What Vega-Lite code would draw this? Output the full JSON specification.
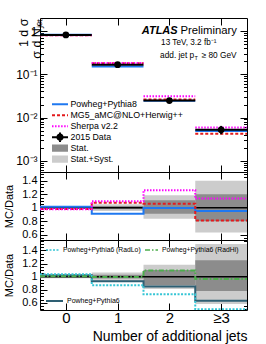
{
  "$schema": "https://vega.github.io/schema/vega-lite/v6.json",
  "padding": {"left": 3, "top": 17, "right": 2, "bottom": 0},
  "spacing": 0,
  "bounds": "flush",
  "config": {
    "font": "Liberation Sans",
    "view": {"stroke": "black", "strokeWidth": 1},
    "axis": {"domain": false, "grid": false, "tickColor": "black", "tickWidth": 1, "labelColor": "black", "titleColor": "black", "titleFontWeight": "normal", "labelFont": "Liberation Sans", "titleFont": "Liberation Sans", "labelOverlap": false},
    "legend": {"padding": 0, "labelColor": "black", "labelFont": "Liberation Sans", "labelLimit": 400}
  },
  "datasets": {
    "xs": [
      {"sample": "Powheg+Pythia8", "bin": 0, "lo": -0.5, "hi": 0.5, "xs": 0.822},
      {"sample": "Powheg+Pythia8", "bin": 1, "lo": 0.5, "hi": 1.5, "xs": 0.152},
      {"sample": "Powheg+Pythia8", "bin": 2, "lo": 1.5, "hi": 2.5, "xs": 0.0245},
      {"sample": "Powheg+Pythia8", "bin": 3, "lo": 2.5, "hi": 3.5, "xs": 0.0049},
      {"sample": "MG5_aMC@NLO+Herwig++", "bin": 0, "lo": -0.5, "hi": 0.5, "xs": 0.795},
      {"sample": "MG5_aMC@NLO+Herwig++", "bin": 1, "lo": 0.5, "hi": 1.5, "xs": 0.18},
      {"sample": "MG5_aMC@NLO+Herwig++", "bin": 2, "lo": 1.5, "hi": 2.5, "xs": 0.0261},
      {"sample": "MG5_aMC@NLO+Herwig++", "bin": 3, "lo": 2.5, "hi": 3.5, "xs": 0.0042},
      {"sample": "Sherpa v2.2", "bin": 0, "lo": -0.5, "hi": 0.5, "xs": 0.795},
      {"sample": "Sherpa v2.2", "bin": 1, "lo": 0.5, "hi": 1.5, "xs": 0.183},
      {"sample": "Sherpa v2.2", "bin": 2, "lo": 1.5, "hi": 2.5, "xs": 0.031},
      {"sample": "Sherpa v2.2", "bin": 3, "lo": 2.5, "hi": 3.5, "xs": 0.0059}
    ],
    "data": [
      {"bin": 0, "lo": -0.5, "hi": 0.5, "xs": 0.81, "down": 0.8, "up": 0.82},
      {"bin": 1, "lo": 0.5, "hi": 1.5, "xs": 0.167, "down": 0.162, "up": 0.172},
      {"bin": 2, "lo": 1.5, "hi": 2.5, "xs": 0.0246, "down": 0.0228, "up": 0.0265},
      {"bin": 3, "lo": 2.5, "hi": 3.5, "xs": 0.0052, "down": 0.0041, "up": 0.0064}
    ],
    "ratio": [
      {"panel": 1, "sample": "Powheg+Pythia8", "bin": 0, "lo": -0.5, "hi": 0.5, "r": 1.015},
      {"panel": 1, "sample": "Powheg+Pythia8", "bin": 1, "lo": 0.5, "hi": 1.5, "r": 0.91},
      {"panel": 1, "sample": "Powheg+Pythia8", "bin": 2, "lo": 1.5, "hi": 2.5, "r": 0.995},
      {"panel": 1, "sample": "Powheg+Pythia8", "bin": 3, "lo": 2.5, "hi": 3.5, "r": 0.95},
      {"panel": 1, "sample": "MG5_aMC@NLO+Herwig++", "bin": 0, "lo": -0.5, "hi": 0.5, "r": 0.982},
      {"panel": 1, "sample": "MG5_aMC@NLO+Herwig++", "bin": 1, "lo": 0.5, "hi": 1.5, "r": 1.075},
      {"panel": 1, "sample": "MG5_aMC@NLO+Herwig++", "bin": 2, "lo": 1.5, "hi": 2.5, "r": 1.06},
      {"panel": 1, "sample": "MG5_aMC@NLO+Herwig++", "bin": 3, "lo": 2.5, "hi": 3.5, "r": 0.81},
      {"panel": 1, "sample": "Sherpa v2.2", "bin": 0, "lo": -0.5, "hi": 0.5, "r": 0.978},
      {"panel": 1, "sample": "Sherpa v2.2", "bin": 1, "lo": 0.5, "hi": 1.5, "r": 1.097},
      {"panel": 1, "sample": "Sherpa v2.2", "bin": 2, "lo": 1.5, "hi": 2.5, "r": 1.26},
      {"panel": 1, "sample": "Sherpa v2.2", "bin": 3, "lo": 2.5, "hi": 3.5, "r": 1.135},
      {"panel": 2, "sample": "Powheg+Pythia6", "bin": 0, "lo": -0.5, "hi": 0.5, "r": 1.02},
      {"panel": 2, "sample": "Powheg+Pythia6", "bin": 1, "lo": 0.5, "hi": 1.5, "r": 0.93},
      {"panel": 2, "sample": "Powheg+Pythia6", "bin": 2, "lo": 1.5, "hi": 2.5, "r": 0.85},
      {"panel": 2, "sample": "Powheg+Pythia6", "bin": 3, "lo": 2.5, "hi": 3.5, "r": 0.63},
      {"panel": 2, "sample": "Powheg+Pythia6 (RadLo)", "bin": 0, "lo": -0.5, "hi": 0.5, "r": 1.035},
      {"panel": 2, "sample": "Powheg+Pythia6 (RadLo)", "bin": 1, "lo": 0.5, "hi": 1.5, "r": 0.87},
      {"panel": 2, "sample": "Powheg+Pythia6 (RadLo)", "bin": 2, "lo": 1.5, "hi": 2.5, "r": 0.73},
      {"panel": 2, "sample": "Powheg+Pythia6 (RadLo)", "bin": 3, "lo": 2.5, "hi": 3.5, "r": 0.5},
      {"panel": 2, "sample": "Powheg+Pythia6 (RadHi)", "bin": 0, "lo": -0.5, "hi": 0.5, "r": 1.005},
      {"panel": 2, "sample": "Powheg+Pythia6 (RadHi)", "bin": 1, "lo": 0.5, "hi": 1.5, "r": 0.995},
      {"panel": 2, "sample": "Powheg+Pythia6 (RadHi)", "bin": 2, "lo": 1.5, "hi": 2.5, "r": 1.095},
      {"panel": 2, "sample": "Powheg+Pythia6 (RadHi)", "bin": 3, "lo": 2.5, "hi": 3.5, "r": 0.965}
    ],
    "band": [
      {"panel": 1, "bin": 0, "lo": -0.5, "hi": 0.5, "statLo": 0.992, "statHi": 1.008, "totLo": 0.98, "totHi": 1.02},
      {"panel": 1, "bin": 1, "lo": 0.5, "hi": 1.5, "statLo": 0.975, "statHi": 1.025, "totLo": 0.95, "totHi": 1.05},
      {"panel": 1, "bin": 2, "lo": 1.5, "hi": 2.5, "statLo": 0.91, "statHi": 1.11, "totLo": 0.835, "totHi": 1.185},
      {"panel": 1, "bin": 3, "lo": 2.5, "hi": 3.5, "statLo": 0.8, "statHi": 1.2, "totLo": 0.63, "totHi": 1.4},
      {"panel": 2, "bin": 0, "lo": -0.5, "hi": 0.5, "statLo": 0.992, "statHi": 1.008, "totLo": 0.975, "totHi": 1.025},
      {"panel": 2, "bin": 1, "lo": 0.5, "hi": 1.5, "statLo": 0.97, "statHi": 1.03, "totLo": 0.93, "totHi": 1.065},
      {"panel": 2, "bin": 2, "lo": 1.5, "hi": 2.5, "statLo": 0.87, "statHi": 1.1, "totLo": 0.81, "totHi": 1.18},
      {"panel": 2, "bin": 3, "lo": 2.5, "hi": 3.5, "statLo": 0.78, "statHi": 1.25, "totLo": 0.58, "totHi": 1.5}
    ]
  },
  "resolve": {"scale": {"color": "independent", "strokeDash": "independent", "fill": "independent", "shape": "independent", "stroke": "independent", "x": "independent", "y": "independent"}},
  "vconcat": [
    {
      "width": 207,
      "height": 154,
      "resolve": {"axis": {"x": "independent", "y": "independent"}},
      "layer": [
        {
          "data": {"name": "xs"},
          "mark": {"type": "rule", "strokeWidth": 2},
          "encoding": {
            "x": {"field": "lo", "type": "quantitative", "scale": {"domain": [-0.5, 3.5], "nice": false, "zero": false},
                  "axis": {"orient": "bottom", "values": [0, 1, 2, 3], "labels": false, "tickSize": -7, "title": null}},
            "x2": {"field": "hi"},
            "y": {"field": "xs", "type": "quantitative", "scale": {"type": "log", "domain": [0.00055, 2], "nice": false},
                  "axis": {"orient": "left", "values": [0.0006,0.0007,0.0008,0.0009,0.001,0.002,0.003,0.004,0.005,0.006,0.007,0.008,0.009,0.01,0.02,0.03,0.04,0.05,0.06,0.07,0.08,0.09,0.1,0.2,0.3,0.4,0.5,0.6,0.7,0.8,0.9,1],
                           "labelExpr": "datum.value == 1 ? '1' : datum.value == 0.1 ? '10⁻¹' : datum.value == 0.01 ? '10⁻²' : datum.value == 0.001 ? '10⁻³' : ''",
                           "tickSize": {"condition": {"test": "indexof([0.001,0.01,0.1,1], datum.value) >= 0", "value": -7}, "value": -3.5},
                           "labelPadding": 10, "labelFontSize": 12,
                           "title": ["1       d σ", "σ    d Nⱼₑₜ"], "titleFontSize": 12.5, "titleAnchor": "end", "titleX": -10, "titleLineHeight": 13}},
            "color": {"field": "sample", "type": "nominal", "scale": {"domain": ["Powheg+Pythia8", "MG5_aMC@NLO+Herwig++", "Sherpa v2.2"], "range": ["#1f78f0", "#e31a1c", "#ff00ff"]}, "legend": null},
            "strokeDash": {"field": "sample", "type": "nominal", "scale": {"domain": ["Powheg+Pythia8", "MG5_aMC@NLO+Herwig++", "Sherpa v2.2"], "range": [[1, 0], [3, 2], [1.5, 1.5]]}, "legend": null}
          }
        },
        {
          "data": {"name": "data"},
          "mark": {"type": "rule", "strokeWidth": 2, "color": "black"},
          "encoding": {
            "x": {"field": "lo", "type": "quantitative", "axis": {"orient": "top", "values": [0, 1, 2, 3], "labels": false, "tickSize": -7, "title": null}},
            "x2": {"field": "hi"},
            "y": {"field": "xs", "type": "quantitative",
                  "axis": {"orient": "right", "values": [0.0006,0.0007,0.0008,0.0009,0.001,0.002,0.003,0.004,0.005,0.006,0.007,0.008,0.009,0.01,0.02,0.03,0.04,0.05,0.06,0.07,0.08,0.09,0.1,0.2,0.3,0.4,0.5,0.6,0.7,0.8,0.9,1],
                           "labels": false, "title": null,
                           "tickSize": {"condition": {"test": "indexof([0.001,0.01,0.1,1], datum.value) >= 0", "value": -7}, "value": -3.5}}}
          }
        },
        {
          "data": {"name": "data"},
          "mark": {"type": "rule", "strokeWidth": 2, "color": "black"},
          "encoding": {
            "x": {"field": "bin", "type": "quantitative", "axis": null},
            "y": {"field": "down", "type": "quantitative", "axis": null},
            "y2": {"field": "up"}
          }
        },
        {
          "data": {"name": "data"},
          "mark": {"type": "point", "filled": true, "size": 45, "color": "black", "opacity": 1},
          "encoding": {
            "x": {"field": "bin", "type": "quantitative", "axis": null},
            "y": {"field": "xs", "type": "quantitative", "axis": null}
          }
        },
        {
          "data": {"values": [{}]},
          "transform": [{"filter": "false"}],
          "mark": {"type": "point", "filled": true, "strokeWidth": 0, "opacity": 1},
          "encoding": {
            "fill": {"field": "entry", "type": "nominal",
                     "scale": {"domain": ["Powheg+Pythia8", "MG5_aMC@NLO+Herwig++", "Sherpa v2.2", "2015 Data", "Stat.", "Stat.+Syst."], "range": ["#1f78f0", "#e31a1c", "#ff00ff", "#000000", "#8c8c8c", "#cccccc"]},
                     "legend": {"orient": "bottom-left", "title": null, "offset": 7.5, "symbolOffset": 4, "labelFontSize": 8.8, "symbolSize": 256, "clipHeight": 10.4, "rowPadding": 0, "labelOffset": 2.5, "symbolStrokeWidth": 0, "symbolOpacity": 1}},
            "shape": {"field": "entry", "type": "nominal",
                      "scale": {"domain": ["Powheg+Pythia8", "MG5_aMC@NLO+Herwig++", "Sherpa v2.2", "2015 Data", "Stat.", "Stat.+Syst."],
                                "range": ["M-1,-0.125H1V0.125H-1Z",
                                          "M-1,-0.125H-0.625V0.125H-1Z M-0.375,-0.125H0V0.125H-0.375Z M0.25,-0.125H0.625V0.125H0.25Z M0.875,-0.125H1V0.125H0.875Z",
                                          "M-1,-0.125H-0.81V0.125H-1Z M-0.62,-0.125H-0.43V0.125H-0.62Z M-0.24,-0.125H-0.05V0.125H-0.24Z M0.14,-0.125H0.33V0.125H0.14Z M0.52,-0.125H0.71V0.125H0.52Z M0.9,-0.125H1V0.125H0.9Z",
                                          "M-1,-0.125H1V0.125H-1Z M-0.125,-0.6H0.125V0.6H-0.125Z M0.45,0A0.45,0.45 0 1,1 -0.45,0A0.45,0.45 0 1,1 0.45,0Z",
                                          "M-1,-0.45H1V0.45H-1Z",
                                          "M-1,-0.45H1V0.45H-1Z"]},
                      "legend": {"orient": "bottom-left", "title": null, "offset": 7.5, "symbolOffset": 4, "labelFontSize": 8.8, "symbolSize": 256, "clipHeight": 10.4, "rowPadding": 0, "labelOffset": 2.5, "symbolStrokeWidth": 0, "symbolOpacity": 1}}
          }
        },
        {
          "data": {"values": [{}]},
          "mark": {"type": "text", "text": "ATLAS", "fontSize": 11, "fontWeight": "bold", "fontStyle": "italic", "align": "right", "baseline": "middle", "color": "black"},
          "encoding": {"x": {"datum": 2.16, "axis": null}, "y": {"datum": 1.016, "axis": null}}
        },
        {
          "data": {"values": [{}]},
          "mark": {"type": "text", "text": "Preliminary", "fontSize": 11.3, "align": "right", "baseline": "middle", "color": "black"},
          "encoding": {"x": {"datum": 3.307, "axis": null}, "y": {"datum": 1.016, "axis": null}}
        },
        {
          "data": {"values": [{}]},
          "mark": {"type": "text", "text": "13 TeV, 3.2 fb⁻¹", "fontSize": 8.2, "align": "left", "baseline": "middle", "color": "black"},
          "encoding": {"x": {"datum": 1.84, "axis": null}, "y": {"datum": 0.52, "axis": null}}
        },
        {
          "data": {"values": [{}]},
          "mark": {"type": "text", "text": "add. jet p", "fontSize": 8.3, "align": "left", "baseline": "middle", "color": "black"},
          "encoding": {"x": {"datum": 1.82, "axis": null}, "y": {"datum": 0.269, "axis": null}}
        },
        {
          "data": {"values": [{}]},
          "mark": {"type": "text", "text": "T", "fontSize": 5.5, "align": "left", "baseline": "middle", "dx": 34.5, "dy": 2.5, "color": "black"},
          "encoding": {"x": {"datum": 1.82, "axis": null}, "y": {"datum": 0.269, "axis": null}}
        },
        {
          "data": {"values": [{}]},
          "mark": {"type": "text", "text": "≥ 80 GeV", "fontSize": 8.3, "align": "right", "baseline": "middle", "color": "black"},
          "encoding": {"x": {"datum": 3.3, "axis": null}, "y": {"datum": 0.269, "axis": null}}
        }
      ]
    },
    {
      "width": 207,
      "height": 68,
      "resolve": {"axis": {"x": "independent", "y": "independent"}},
      "layer": [
        {
          "data": {"name": "band"},
          "transform": [{"filter": "datum.panel == 1"}],
          "mark": {"type": "rect", "color": "#cccccc", "clip": true},
          "encoding": {
            "x": {"field": "lo", "type": "quantitative", "scale": {"domain": [-0.5, 3.5], "nice": false, "zero": false},
                  "axis": {"orient": "bottom", "values": [0, 1, 2, 3], "labels": false, "tickSize": -7, "title": null}},
            "x2": {"field": "hi"},
            "y": {"field": "totLo", "type": "quantitative", "scale": {"domain": [0.52, 1.53], "nice": false, "zero": false},
                  "axis": {"orient": "left", "values": [0.55,0.6,0.65,0.7,0.75,0.8,0.85,0.9,0.95,1,1.05,1.1,1.15,1.2,1.25,1.3,1.35,1.4,1.45,1.5],
                           "labelExpr": "indexof([0.6,0.8,1.2,1.4], datum.value) >= 0 ? format(datum.value, '.1f') : datum.value == 1 ? '1' : ''",
                           "tickSize": {"condition": {"test": "indexof([0.6,0.8,1,1.2,1.4], datum.value) >= 0", "value": -7}, "value": -3.5},
                           "labelPadding": 10, "labelFontSize": 11, "title": "MC/Data", "titleFontSize": 11, "titleX": -25.5}},
            "y2": {"field": "totHi"}
          }
        },
        {
          "data": {"name": "band"},
          "transform": [{"filter": "datum.panel == 1"}],
          "mark": {"type": "rect", "color": "#8c8c8c", "clip": true},
          "encoding": {
            "x": {"field": "lo", "type": "quantitative", "axis": {"orient": "top", "values": [0, 1, 2, 3], "labels": false, "tickSize": -7, "title": null}},
            "x2": {"field": "hi"},
            "y": {"field": "statLo", "type": "quantitative",
                  "axis": {"orient": "right", "values": [0.55,0.6,0.65,0.7,0.75,0.8,0.85,0.9,0.95,1,1.05,1.1,1.15,1.2,1.25,1.3,1.35,1.4,1.45,1.5], "labels": false, "title": null,
                           "tickSize": {"condition": {"test": "indexof([0.6,0.8,1,1.2,1.4], datum.value) >= 0", "value": -7}, "value": -3.5}}},
            "y2": {"field": "statHi"}
          }
        },
        {
          "data": {"values": [{}]},
          "mark": {"type": "rule", "color": "black", "strokeWidth": 1.5},
          "encoding": {"x": {"datum": -0.5, "axis": null}, "x2": {"datum": 3.5}, "y": {"datum": 1, "axis": null}}
        },
        {
          "data": {"name": "ratio"},
          "transform": [{"filter": "datum.panel == 1"}, {"fold": ["lo", "hi"], "as": ["edge", "xe"]}],
          "mark": {"type": "line", "strokeWidth": 2, "clip": true},
          "encoding": {
            "x": {"field": "xe", "type": "quantitative", "axis": null},
            "y": {"field": "r", "type": "quantitative", "axis": null},
            "order": [{"field": "bin", "type": "quantitative"}, {"field": "edge", "type": "nominal", "sort": "descending"}],
            "color": {"field": "sample", "type": "nominal", "scale": {"domain": ["Powheg+Pythia8", "MG5_aMC@NLO+Herwig++", "Sherpa v2.2"], "range": ["#1f78f0", "#e31a1c", "#ff00ff"]}, "legend": null},
            "strokeDash": {"field": "sample", "type": "nominal", "scale": {"domain": ["Powheg+Pythia8", "MG5_aMC@NLO+Herwig++", "Sherpa v2.2"], "range": [[1, 0], [3, 2], [1.5, 1.5]]}, "legend": null}
          }
        }
      ]
    },
    {
      "width": 207,
      "height": 70,
      "resolve": {"axis": {"x": "independent", "y": "independent"}},
      "layer": [
        {
          "data": {"name": "band"},
          "transform": [{"filter": "datum.panel == 2"}],
          "mark": {"type": "rect", "color": "#cccccc", "clip": true},
          "encoding": {
            "x": {"field": "lo", "type": "quantitative", "scale": {"domain": [-0.5, 3.5], "nice": false, "zero": false},
                  "axis": {"orient": "bottom", "values": [0, 1, 2, 3], "labelExpr": "datum.value == 3 ? '≥3' : datum.label", "labelFontSize": 15, "labelPadding": 7, "tickSize": -7,
                           "title": "Number of additional jets", "titleFontSize": 14, "titleAnchor": "end", "titlePadding": 4}},
            "x2": {"field": "hi"},
            "y": {"field": "totLo", "type": "quantitative", "scale": {"domain": [0.49, 1.56], "nice": false, "zero": false},
                  "axis": {"orient": "left", "values": [0.5,0.55,0.6,0.65,0.7,0.75,0.8,0.85,0.9,0.95,1,1.05,1.1,1.15,1.2,1.25,1.3,1.35,1.4,1.45,1.5,1.55],
                           "labelExpr": "indexof([0.6,0.8,1.2,1.4], datum.value) >= 0 ? format(datum.value, '.1f') : datum.value == 1 ? '1' : ''",
                           "tickSize": {"condition": {"test": "indexof([0.6,0.8,1,1.2,1.4], datum.value) >= 0", "value": -7}, "value": -3.5},
                           "labelPadding": 10, "labelFontSize": 11, "title": "MC/Data", "titleFontSize": 11, "titleX": -25.5}},
            "y2": {"field": "totHi"}
          }
        },
        {
          "data": {"name": "band"},
          "transform": [{"filter": "datum.panel == 2"}],
          "mark": {"type": "rect", "color": "#8c8c8c", "clip": true},
          "encoding": {
            "x": {"field": "lo", "type": "quantitative", "axis": {"orient": "top", "values": [0, 1, 2, 3], "labels": false, "tickSize": -7, "title": null}},
            "x2": {"field": "hi"},
            "y": {"field": "statLo", "type": "quantitative",
                  "axis": {"orient": "right", "values": [0.5,0.55,0.6,0.65,0.7,0.75,0.8,0.85,0.9,0.95,1,1.05,1.1,1.15,1.2,1.25,1.3,1.35,1.4,1.45,1.5,1.55], "labels": false, "title": null,
                           "tickSize": {"condition": {"test": "indexof([0.6,0.8,1,1.2,1.4], datum.value) >= 0", "value": -7}, "value": -3.5}}},
            "y2": {"field": "statHi"}
          }
        },
        {
          "data": {"values": [{}]},
          "mark": {"type": "rule", "color": "black", "strokeWidth": 1.5},
          "encoding": {"x": {"datum": -0.5, "axis": null}, "x2": {"datum": 3.5}, "y": {"datum": 1, "axis": null}}
        },
        {
          "data": {"name": "ratio"},
          "transform": [{"filter": "datum.sample == 'Powheg+Pythia6'"}, {"fold": ["lo", "hi"], "as": ["edge", "xe"]}],
          "mark": {"type": "line", "strokeWidth": 2, "clip": true},
          "encoding": {
            "x": {"field": "xe", "type": "quantitative", "axis": null},
            "y": {"field": "r", "type": "quantitative", "axis": null},
            "order": [{"field": "bin", "type": "quantitative"}, {"field": "edge", "type": "nominal", "sort": "descending"}],
            "stroke": {"field": "sample", "type": "nominal", "scale": {"domain": ["Powheg+Pythia6"], "range": ["#2e5f73"]},
                       "legend": {"orient": "bottom-left", "title": null, "offset": 5, "symbolOffset": 0, "symbolType": "stroke", "symbolSize": 289, "symbolStrokeWidth": 2, "labelFontSize": 7, "clipHeight": 8, "labelOffset": 3}}
          }
        },
        {
          "data": {"name": "ratio"},
          "transform": [{"filter": "datum.panel == 2 && datum.sample != 'Powheg+Pythia6'"}, {"fold": ["lo", "hi"], "as": ["edge", "xe"]}],
          "mark": {"type": "line", "strokeWidth": 2, "clip": true},
          "encoding": {
            "x": {"field": "xe", "type": "quantitative", "axis": null},
            "y": {"field": "r", "type": "quantitative", "axis": null},
            "order": [{"field": "bin", "type": "quantitative"}, {"field": "edge", "type": "nominal", "sort": "descending"}],
            "color": {"field": "sample", "type": "nominal", "scale": {"domain": ["Powheg+Pythia6 (RadLo)", "Powheg+Pythia6 (RadHi)"], "range": ["#35c5d5", "#4cad4c"]},
                      "legend": {"orient": "top-left", "direction": "horizontal", "title": null, "offset": 5, "symbolType": "stroke", "symbolSize": 169, "symbolStrokeWidth": 1.5, "labelFontSize": 6.8, "columnPadding": 3, "clipHeight": 10, "labelOffset": 3}},
            "strokeDash": {"field": "sample", "type": "nominal", "scale": {"domain": ["Powheg+Pythia6 (RadLo)", "Powheg+Pythia6 (RadHi)"], "range": [[2, 1.5], [5, 2, 1.5, 2]]},
                      "legend": {"orient": "top-left", "direction": "horizontal", "title": null, "offset": 5, "symbolType": "stroke", "symbolSize": 169, "symbolStrokeWidth": 1.5, "labelFontSize": 6.8, "columnPadding": 3, "clipHeight": 10, "labelOffset": 3}}
          }
        }
      ]
    }
  ]
}
